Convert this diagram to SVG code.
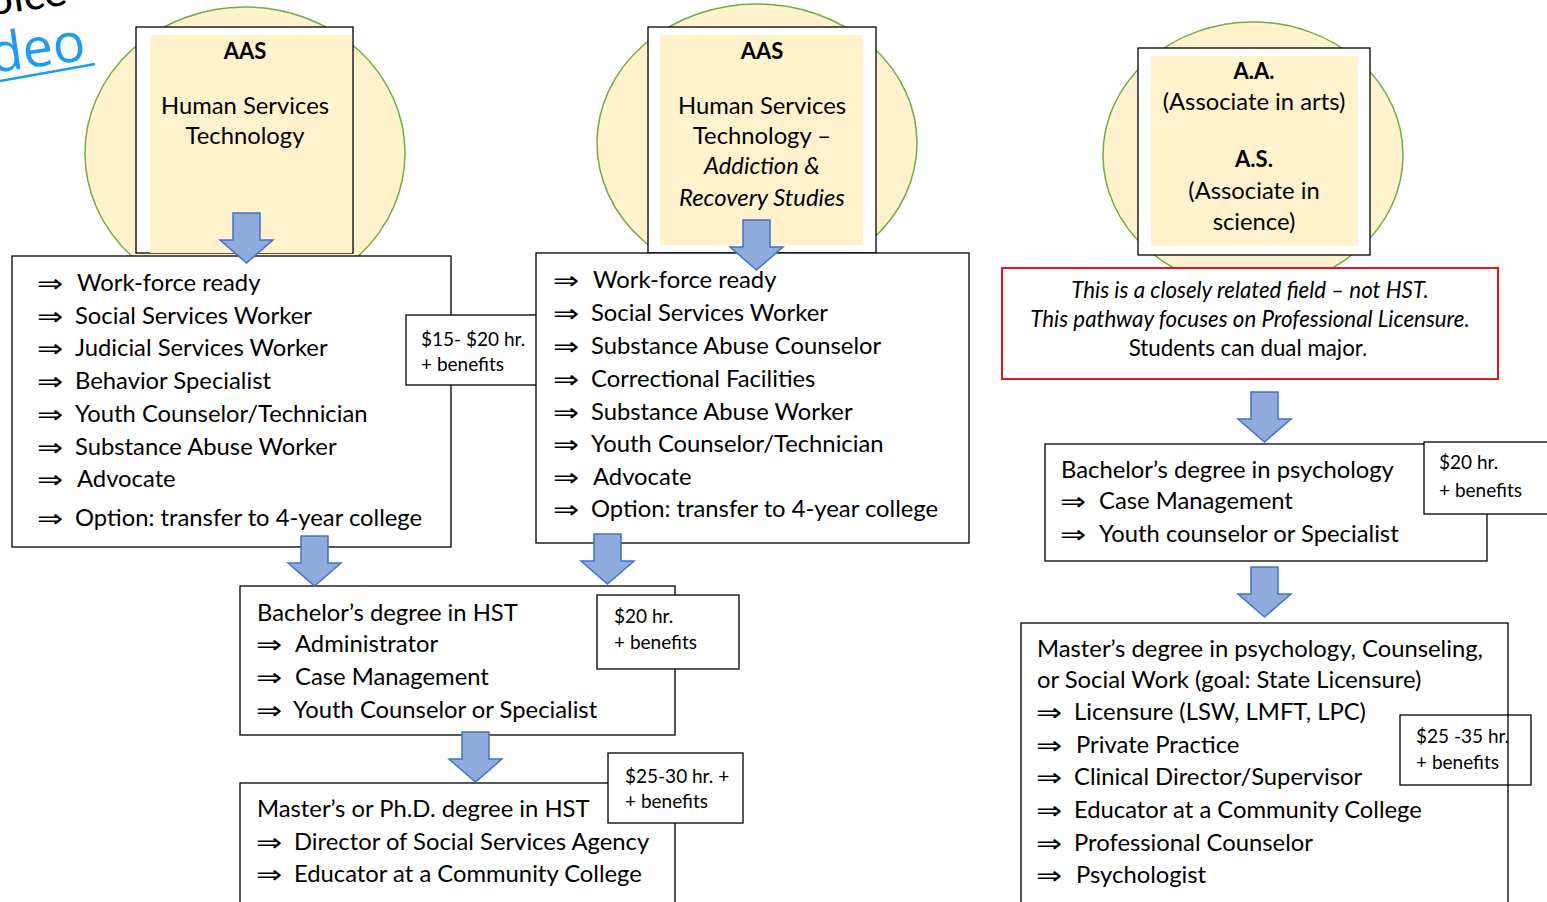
<svg xmlns="http://www.w3.org/2000/svg" width="1547" height="902" viewBox="0 0 1547 902">
<defs>
<style>
.t{font-family:Lato,"Liberation Sans","DejaVu Sans",sans-serif;fill:#000}
.a{font-family:"DejaVu Sans",sans-serif;fill:#000;font-size:25px}
.big{font-size:23.8px}
.hd{font-size:22px}
.sm{font-size:19px}
.b{font-weight:bold}
.i{font-style:italic}
.box{fill:#fff;stroke:#000;stroke-width:1.3}
.circ{fill:#FFF2CC;stroke:#70AD47;stroke-width:1.5}
.yel{fill:#FFF2CC}
.arr{fill:#8FAADC;stroke:#4472C4;stroke-width:1.5}
</style>
<path id="dn" class="arr" d="M13,0 H40 V27 H53 L26.5,50 L0,27 H13 Z"/>
</defs>
<rect width="1547" height="902" fill="#fff"/>

<g id="corner">
<text class="t" x="-12" y="14" font-size="44" transform="rotate(-8 0 0)">pice</text>
<text x="-8" y="72" font-family="'Open Sans',Lato,sans-serif" font-size="54" fill="#1E9BF0" transform="rotate(-8 0 70)">deo</text>
<line x1="0" y1="81" x2="95" y2="64" stroke="#1E9BF0" stroke-width="2.5"/>
</g>

<g id="n1">
<ellipse class="circ" cx="245" cy="153" rx="160" ry="146"/>
<rect class="box" x="136" y="27" width="217" height="226"/>
<rect class="yel" x="150" y="35" width="202" height="218"/>
<text class="t b hd" x="245" y="59" text-anchor="middle">AAS</text>
<text class="t big" x="245" y="114" text-anchor="middle">Human Services</text>
<text class="t big" x="245" y="144" text-anchor="middle">Technology</text>
</g>

<g id="n2">
<ellipse class="circ" cx="757" cy="143" rx="160" ry="139"/>
<rect class="box" x="648" y="27" width="228" height="226"/>
<rect class="yel" x="660" y="35" width="203" height="210"/>
<text class="t b hd" x="762" y="59" text-anchor="middle">AAS</text>
<text class="t big" x="762" y="114" text-anchor="middle">Human Services</text>
<text class="t big" x="762" y="144" text-anchor="middle">Technology –</text>
<text class="t big i" x="762" y="174" text-anchor="middle">Addiction &amp;</text>
<text class="t big i" x="762" y="206" text-anchor="middle">Recovery Studies</text>
</g>

<g id="n3">
<ellipse class="circ" cx="1253" cy="155" rx="150" ry="133"/>
<rect class="box" x="1138" y="48" width="232" height="207"/>
<rect class="yel" x="1151" y="56" width="207" height="190"/>
<text class="t b hd" x="1254" y="79" text-anchor="middle">A.A.</text>
<text class="t big" x="1254" y="110" text-anchor="middle">(Associate in arts)</text>
<text class="t b hd" x="1254" y="167" text-anchor="middle">A.S.</text>
<text class="t big" x="1254" y="199" text-anchor="middle">(Associate in</text>
<text class="t big" x="1254" y="230" text-anchor="middle">science)</text>
</g>

<g id="list1">
<rect class="box" x="12" y="256" width="439" height="291"/>
<g class="a">
<text transform="translate(37 292) scale(1.25 1)">⇒</text><text transform="translate(37 325) scale(1.25 1)">⇒</text>
<text transform="translate(37 357) scale(1.25 1)">⇒</text><text transform="translate(37 390) scale(1.25 1)">⇒</text>
<text transform="translate(37 423) scale(1.25 1)">⇒</text><text transform="translate(37 456) scale(1.25 1)">⇒</text>
<text transform="translate(37 488) scale(1.25 1)">⇒</text><text transform="translate(37 527) scale(1.25 1)">⇒</text>
</g>
<g class="t big">
<text x="77" y="291">Work-force ready</text>
<text x="75" y="324">Social Services Worker</text>
<text x="75" y="356">Judicial Services Worker</text>
<text x="75" y="389">Behavior Specialist</text>
<text x="75" y="422">Youth Counselor/Technician</text>
<text x="75" y="455">Substance Abuse Worker</text>
<text x="77" y="487">Advocate</text>
<text x="75" y="526">Option: transfer to 4-year college</text>
</g>
</g>

<g id="pay1">
<rect class="box" x="406" y="315" width="141" height="70"/>
<text class="t sm" x="421" y="346">$15- $20 hr.</text>
<text class="t sm" x="421" y="371">+ benefits</text>
</g>

<g id="list2">
<rect class="box" x="536" y="253" width="433" height="290"/>
<g class="a">
<text transform="translate(553 289) scale(1.25 1)">⇒</text><text transform="translate(553 322) scale(1.25 1)">⇒</text>
<text transform="translate(553 355) scale(1.25 1)">⇒</text><text transform="translate(553 388) scale(1.25 1)">⇒</text>
<text transform="translate(553 421) scale(1.25 1)">⇒</text><text transform="translate(553 453) scale(1.25 1)">⇒</text>
<text transform="translate(553 486) scale(1.25 1)">⇒</text><text transform="translate(553 518) scale(1.25 1)">⇒</text>
</g>
<g class="t big">
<text x="593" y="288">Work-force ready</text>
<text x="591" y="321">Social Services Worker</text>
<text x="591" y="354">Substance Abuse Counselor</text>
<text x="591" y="387">Correctional Facilities</text>
<text x="591" y="420">Substance Abuse Worker</text>
<text x="591" y="452">Youth Counselor/Technician</text>
<text x="593" y="485">Advocate</text>
<text x="591" y="517">Option: transfer to 4-year college</text>
</g>
</g>

<g id="note">
<rect x="1002" y="268" width="496" height="111" fill="#fff" stroke="#E8141B" stroke-width="2"/>
<text class="t i" font-size="22.3" x="1250" y="298" text-anchor="middle">This is a closely related field – not HST.</text>
<text class="t i" font-size="22.3" x="1250" y="327" text-anchor="middle">This pathway focuses on Professional Licensure.</text>
<text class="t" font-size="22.3" x="1248" y="356" text-anchor="middle">Students can dual major.</text>
</g>

<g id="bach-psy">
<rect class="box" x="1045" y="444" width="442" height="117"/>
<text class="t big" x="1061" y="478">Bachelor’s degree in psychology</text>
<text class="a" transform="translate(1060 510) scale(1.25 1)">⇒</text><text class="t big" x="1099" y="509">Case Management</text>
<text class="a" transform="translate(1060 543) scale(1.25 1)">⇒</text><text class="t big" x="1099" y="542">Youth counselor or Specialist</text>
</g>

<g id="pay4">
<rect class="box" x="1424" y="442" width="130" height="72"/>
<text class="t sm" x="1439" y="469">$20 hr.</text>
<text class="t sm" x="1439" y="497">+ benefits</text>
</g>

<g id="pay5">
<rect class="box" x="1400" y="715" width="131" height="70"/>
<text class="t sm" x="1416" y="743">$25 -35 hr.</text>
<text class="t sm" x="1416" y="769">+ benefits</text>
</g>

<g id="mast-psy">
<rect x="1021" y="623" width="487" height="290" fill="none" stroke="#000" stroke-width="1.3"/>
<g class="t big">
<text x="1037" y="657">Master’s degree in psychology, Counseling,</text>
<text x="1037" y="688">or Social Work (goal: State Licensure)</text>
<text x="1074" y="720">Licensure (LSW, LMFT, LPC)</text>
<text x="1076" y="753">Private Practice</text>
<text x="1074" y="785">Clinical Director/Supervisor</text>
<text x="1074" y="818">Educator at a Community College</text>
<text x="1074" y="851">Professional Counselor</text>
<text x="1076" y="883">Psychologist</text>
</g>
<g class="a">
<text transform="translate(1036 721) scale(1.25 1)">⇒</text><text transform="translate(1036 754) scale(1.25 1)">⇒</text>
<text transform="translate(1036 786) scale(1.25 1)">⇒</text><text transform="translate(1036 819) scale(1.25 1)">⇒</text>
<text transform="translate(1036 852) scale(1.25 1)">⇒</text><text transform="translate(1036 884) scale(1.25 1)">⇒</text>
</g>
</g>

<g id="bach-hst">
<rect class="box" x="240" y="586" width="435" height="149"/>
<text class="t big" x="257" y="621">Bachelor’s degree in HST</text>
<text class="a" transform="translate(256 653) scale(1.25 1)">⇒</text><text class="t big" x="295" y="652">Administrator</text>
<text class="a" transform="translate(256 686) scale(1.25 1)">⇒</text><text class="t big" x="295" y="685">Case Management</text>
<text class="a" transform="translate(256 719) scale(1.25 1)">⇒</text><text class="t big" x="293" y="718">Youth Counselor or Specialist</text>
</g>

<g id="pay2">
<rect class="box" x="597" y="595" width="142" height="74"/>
<text class="t sm" x="614" y="623">$20 hr.</text>
<text class="t sm" x="614" y="649">+ benefits</text>
</g>

<g id="mast-hst">
<rect class="box" x="240" y="783" width="435" height="130"/>
<text class="t big" x="257" y="817">Master’s or Ph.D. degree in HST</text>
<text class="a" transform="translate(256 851) scale(1.25 1)">⇒</text><text class="t big" x="294" y="850">Director of Social Services Agency</text>
<text class="a" transform="translate(256 883) scale(1.25 1)">⇒</text><text class="t big" x="294" y="882">Educator at a Community College</text>
</g>

<g id="pay3">
<rect class="box" x="608" y="753" width="135" height="70"/>
<text class="t sm" x="625" y="783">$25-30 hr. +</text>
<text class="t sm" x="625" y="808">+ benefits</text>
</g>

<g id="connectors">
<use href="#dn" x="220" y="213"/>
<use href="#dn" x="730" y="220"/>
<use href="#dn" x="288" y="536"/>
<use href="#dn" x="581" y="534"/>
<use href="#dn" x="449" y="732"/>
<use href="#dn" x="1238" y="392"/>
<use href="#dn" x="1238" y="567"/>
</g>
</svg>
